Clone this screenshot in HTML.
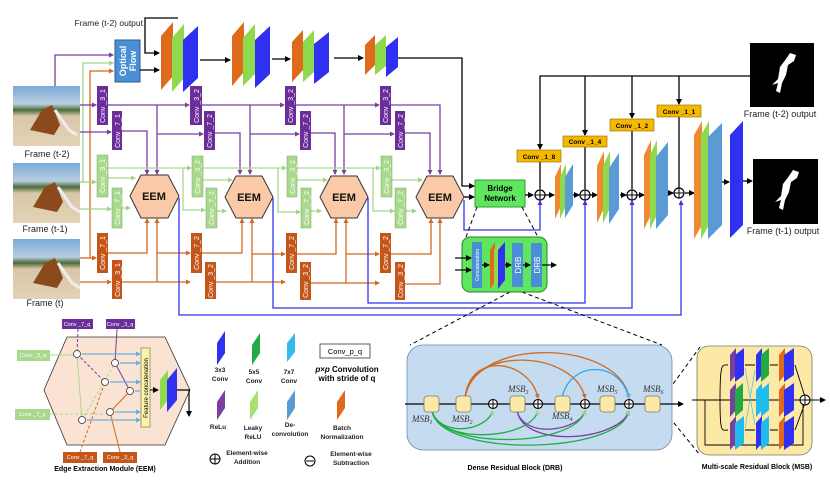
<!DOCTYPE html>
<html><head><meta charset="utf-8"><style>
html,body{margin:0;padding:0;background:#fff;}
svg{display:block;font-family:"Liberation Sans",Arial,sans-serif;}
</style></head><body>
<svg width="830" height="484" viewBox="0 0 830 484" xmlns="http://www.w3.org/2000/svg">
<defs>
<marker id="ab" markerWidth="6" markerHeight="6" refX="5" refY="3" orient="auto" markerUnits="userSpaceOnUse"><path d="M0,0L6,3L0,6z" fill="#000"/></marker>
<marker id="ap" markerWidth="5" markerHeight="5" refX="4" refY="2.5" orient="auto" markerUnits="userSpaceOnUse"><path d="M0,0L5,2.5L0,5z" fill="#7b3fa0"/></marker>
<marker id="ag" markerWidth="5" markerHeight="5" refX="4" refY="2.5" orient="auto" markerUnits="userSpaceOnUse"><path d="M0,0L5,2.5L0,5z" fill="#9fd488"/></marker>
<marker id="ao" markerWidth="5" markerHeight="5" refX="4" refY="2.5" orient="auto" markerUnits="userSpaceOnUse"><path d="M0,0L5,2.5L0,5z" fill="#d2691e"/></marker>
<marker id="au" markerWidth="5" markerHeight="5" refX="4" refY="2.5" orient="auto" markerUnits="userSpaceOnUse"><path d="M0,0L5,2.5L0,5z" fill="#3333ee"/></marker>
<marker id="ac" markerWidth="5" markerHeight="5" refX="4" refY="2.5" orient="auto" markerUnits="userSpaceOnUse"><path d="M0,0L5,2.5L0,5z" fill="#6aaee0"/></marker>
<linearGradient id="img" x1="0" y1="0" x2="0" y2="1"><stop offset="0" stop-color="#7aa8d8"/><stop offset="0.3" stop-color="#b9cfe0"/><stop offset="0.4" stop-color="#4d6b3a"/><stop offset="0.5" stop-color="#d8c6a8"/><stop offset="1" stop-color="#e3d3b6"/></linearGradient>
</defs>

<g>
<rect x="13" y="86" width="67" height="60" fill="url(#img)"/>
<rect x="13" y="163" width="67" height="60" fill="url(#img)"/>
<rect x="13" y="239" width="67" height="60" fill="url(#img)"/>
<path d="M30,130 l12,-20 l10,-5 l8,20 l-6,10z M33,207 l12,-20 l10,-5 l8,20 l-6,10z M33,283 l12,-20 l10,-5 l8,20 l-6,10z" fill="#8a4a1c"/>
<path d="M55,110 l14,20 l8,5 M58,187 l14,20 l8,5 M58,263 l14,20 l8,5" stroke="#eee" stroke-width="3" fill="none"/>
</g>
<g font-size="9" fill="#222" text-anchor="middle">
<text x="47" y="157">Frame (t-2)</text>
<text x="45" y="232">Frame (t-1)</text>
<text x="45" y="306">Frame (t)</text>
<text x="143" y="26" text-anchor="end" font-size="8.5">Frame (t-2) output</text>
</g>

<g fill="none" stroke-width="1.3">
<path d="M55,86V55H113" stroke="#7b3fa0" marker-end="url(#ap)"/>
<path d="M83,182V63H113" stroke="#9fd488" marker-end="url(#ag)"/>
<path d="M90,258V71H113" stroke="#d2691e" marker-end="url(#ao)"/>
<path d="M80,105H96" stroke="#7b3fa0" marker-end="url(#ap)"/>
<path d="M80,132H111" stroke="#7b3fa0" marker-end="url(#ap)"/>
<path d="M80,182H96" stroke="#9fd488" marker-end="url(#ag)"/>
<path d="M80,209H111" stroke="#9fd488" marker-end="url(#ag)"/>
<path d="M80,258H96" stroke="#d2691e" marker-end="url(#ao)"/>
<path d="M80,282H111" stroke="#d2691e" marker-end="url(#ao)"/>
</g>

<g fill="none" stroke="#7b3fa0" stroke-width="1.3">
<path d="M108,105H189" marker-end="url(#ap)"/><path d="M157,105V174" marker-end="url(#ap)"/><path d="M157,134H203" marker-end="url(#ap)"/>
<path d="M122,131H147V174" marker-end="url(#ap)"/>
<path d="M202,105H284" marker-end="url(#ap)"/><path d="M250,105V174" marker-end="url(#ap)"/><path d="M250,134H299" marker-end="url(#ap)"/>
<path d="M215,133H240V174" marker-end="url(#ap)"/>
<path d="M296,105H379" marker-end="url(#ap)"/><path d="M344,105V174" marker-end="url(#ap)"/><path d="M344,134H394" marker-end="url(#ap)"/>
<path d="M311,133H335V174" marker-end="url(#ap)"/>
<path d="M391,105H440V174" marker-end="url(#ap)"/>
<path d="M405,133H430V174" marker-end="url(#ap)"/>
</g>
<g fill="none" stroke="#a9d98c" stroke-width="1.3">
<path d="M108,168H191" marker-end="url(#ag)"/><path d="M108,178H135" marker-end="url(#ag)"/><path d="M122,208H130" marker-end="url(#ag)"/>
<path d="M183,168V210H205" marker-end="url(#ag)"/>
<path d="M203,168H286" marker-end="url(#ag)"/><path d="M203,180H232" marker-end="url(#ag)"/><path d="M217,211H226" marker-end="url(#ag)"/>
<path d="M278,168V212H300" marker-end="url(#ag)"/>
<path d="M297,168H380" marker-end="url(#ag)"/><path d="M297,180H327" marker-end="url(#ag)"/><path d="M311,211H321" marker-end="url(#ag)"/>
<path d="M373,168V211H394" marker-end="url(#ag)"/>
<path d="M392,180H422" marker-end="url(#ag)"/><path d="M406,211H416" marker-end="url(#ag)"/>
</g>
<g fill="none" stroke="#d2691e" stroke-width="1.3">
<path d="M108,253H147V219" marker-end="url(#ao)"/>
<path d="M122,282H190" marker-end="url(#ao)"/><path d="M157,282V219" marker-end="url(#ao)"/><path d="M157,253H190" marker-end="url(#ao)"/>
<path d="M202,253H242V219" marker-end="url(#ao)"/>
<path d="M216,282H285" marker-end="url(#ao)"/><path d="M252,282V219" marker-end="url(#ao)"/><path d="M252,254H285" marker-end="url(#ao)"/>
<path d="M297,254H336V219" marker-end="url(#ao)"/>
<path d="M311,283H379" marker-end="url(#ao)"/><path d="M346,283V219" marker-end="url(#ao)"/><path d="M346,254H379" marker-end="url(#ao)"/>
<path d="M391,254H431V219" marker-end="url(#ao)"/>
<path d="M405,284H440V219" marker-end="url(#ao)"/>
</g>

<g font-size="7" fill="#fff" stroke="none">
<g fill="#6b2d9a">
<rect x="97" y="86" width="11" height="39"/><rect x="112" y="111" width="10" height="39"/>
<rect x="190" y="86" width="12" height="39"/><rect x="204" y="111" width="11" height="39"/>
<rect x="285" y="86" width="11" height="39"/><rect x="300" y="111" width="11" height="39"/>
<rect x="380" y="86" width="11" height="39"/><rect x="395" y="111" width="10" height="39"/>
</g>
<g fill="#a9d98c" stroke="#7aa860" stroke-width="0.5">
<rect x="97" y="155" width="11" height="42"/><rect x="112" y="188" width="10" height="40"/>
<rect x="192" y="156" width="11" height="41"/><rect x="206" y="188" width="11" height="40"/>
<rect x="287" y="156" width="10" height="41"/><rect x="301" y="188" width="10" height="40"/>
<rect x="381" y="156" width="11" height="41"/><rect x="395" y="188" width="11" height="40"/>
</g>
<g fill="#c4561a">
<rect x="97" y="233" width="11" height="40"/><rect x="112" y="260" width="10" height="39"/>
<rect x="191" y="233" width="11" height="40"/><rect x="205" y="262" width="11" height="37"/>
<rect x="286" y="233" width="11" height="40"/><rect x="300" y="262" width="11" height="38"/>
<rect x="380" y="233" width="11" height="40"/><rect x="395" y="262" width="10" height="38"/>
</g>
<g text-anchor="middle">
<text transform="translate(105,106) rotate(-90)">Conv _3_1</text><text transform="translate(120,131) rotate(-90)">Conv _7_1</text>
<text transform="translate(199,106) rotate(-90)">Conv _3_2</text><text transform="translate(212,131) rotate(-90)">Conv _7_2</text>
<text transform="translate(293,106) rotate(-90)">Conv _3_2</text><text transform="translate(308,131) rotate(-90)">Conv _7_2</text>
<text transform="translate(388,106) rotate(-90)">Conv _3_2</text><text transform="translate(403,131) rotate(-90)">Conv _7_2</text>
<text transform="translate(105,176) rotate(-90)">Conv _3_1</text><text transform="translate(120,208) rotate(-90)">Conv _7_1</text>
<text transform="translate(200,177) rotate(-90)">Conv _3_2</text><text transform="translate(214,208) rotate(-90)">Conv _7_2</text>
<text transform="translate(295,177) rotate(-90)">Conv _3_2</text><text transform="translate(309,208) rotate(-90)">Conv _7_2</text>
<text transform="translate(389,177) rotate(-90)">Conv _3_2</text><text transform="translate(403,208) rotate(-90)">Conv _7_2</text>
<text transform="translate(105,253) rotate(-90)">Conv _7_1</text><text transform="translate(120,280) rotate(-90)">Conv _3_1</text>
<text transform="translate(199,253) rotate(-90)">Conv _7_2</text><text transform="translate(213,281) rotate(-90)">Conv _3_2</text>
<text transform="translate(294,253) rotate(-90)">Conv _7_2</text><text transform="translate(308,281) rotate(-90)">Conv _3_2</text>
<text transform="translate(388,253) rotate(-90)">Conv _7_2</text><text transform="translate(403,281) rotate(-90)">Conv _3_2</text>
</g>
</g>

<g fill="#f9c9a8" stroke="#333" stroke-width="1">
<polygon points="130,196 141,175 168,175 179,196 168,218 141,218"/>
<polygon points="225,197 236,176 262,176 273,197 262,218 236,218"/>
<polygon points="320,197 331,176 357,176 368,197 357,218 331,218"/>
<polygon points="416,197 427,176 453,176 464,197 453,218 427,218"/>
</g>
<g font-size="11" font-weight="bold" text-anchor="middle" fill="#111">
<text x="154" y="200">EEM</text><text x="249" y="201">EEM</text><text x="344" y="201">EEM</text><text x="440" y="201">EEM</text>
</g>

<rect x="115" y="40" width="25" height="42" fill="#4a8fd4" stroke="#2a5d94"/>
<text transform="translate(126,61) rotate(-90)" font-size="9" font-weight="bold" fill="#fff" text-anchor="middle">Optical</text>
<text transform="translate(136,61) rotate(-90)" font-size="9" font-weight="bold" fill="#fff" text-anchor="middle">Flow</text>
<g fill="none" stroke="#000" stroke-width="1.3">
<path d="M178,18H145V53H159" marker-end="url(#ab)"/>
<path d="M140,70H159" marker-end="url(#ab)"/>
<path d="M200,60H230" marker-end="url(#ab)"/>
<path d="M272,59H290" marker-end="url(#ab)"/>
<path d="M334,58H363" marker-end="url(#ab)"/>
<path d="M398,58H462V186H474" marker-end="url(#ab)"/>
<path d="M464,197H474" marker-end="url(#ab)"/>
</g>
<g>
<polygon points="161,36 173,22 173,76 161,90" fill="#e06a1c"/>
<polygon points="172,38 184,24 184,78 172,92" fill="#8fd94f"/>
<polygon points="183,40 198,26 198,78 183,92" fill="#3030f0"/>
<polygon points="232,36 244,22 244,72 232,86" fill="#e06a1c"/>
<polygon points="243,38 255,24 255,74 243,86" fill="#8fd94f"/>
<polygon points="255,40 270,26 270,74 255,88" fill="#3030f0"/>
<polygon points="292,42 303,30 303,70 292,82" fill="#e06a1c"/>
<polygon points="303,42 314,30 314,72 303,82" fill="#8fd94f"/>
<polygon points="314,44 329,32 329,72 314,84" fill="#3030f0"/>
<polygon points="365,45 375,35 375,65 365,75" fill="#e06a1c"/>
<polygon points="375,45 386,35 386,66 375,75" fill="#8fd94f"/>
<polygon points="386,47 398,37 398,67 386,77" fill="#3030f0"/>
</g>

<g fill="none" stroke="#3333ee" stroke-width="1.3">
<path d="M179,198V315H681V201" marker-end="url(#au)"/>
<path d="M273,198V308H632V201" marker-end="url(#au)"/>
<path d="M368,198V303H585V201" marker-end="url(#au)"/>
<path d="M464,200V230H540V201" marker-end="url(#au)"/>
</g>

<rect x="475" y="180" width="50" height="27" fill="#5fe65f" stroke="#3a9a3a"/>
<text x="500" y="191" font-size="8" font-weight="bold" text-anchor="middle">Bridge</text>
<text x="500" y="201" font-size="8" font-weight="bold" text-anchor="middle">Network</text>
<g stroke="#000" stroke-dasharray="4,3" fill="none" stroke-width="1">
<path d="M477,207L466,237"/><path d="M522,207L538,237"/>
<path d="M510,292L410,345"/><path d="M522,292L662,345"/>
<path d="M665,395L700,347"/><path d="M665,412L700,455"/>
</g>
<rect x="462" y="237" width="85" height="55" rx="8" fill="#5fe65f" stroke="#2f7f2f"/>
<rect x="472" y="242" width="10" height="46" fill="#4a8fd4"/>
<text transform="translate(479,265) rotate(-90)" font-size="5" fill="#fff" text-anchor="middle">Concatenation</text>
<polygon points="490,250 495,242 495,282 490,289" fill="#e06a1c"/>
<polygon points="494,250 499,242 499,282 494,289" fill="#8fd94f"/>
<polygon points="498,250 505,242 505,280 498,289" fill="#3030f0"/>
<rect x="512" y="243" width="11" height="44" fill="#4a8fd4"/>
<rect x="531" y="243" width="11" height="44" fill="#4a8fd4"/>
<text transform="translate(521,265) rotate(-90)" font-size="8" fill="#fff" text-anchor="middle">DRB</text>
<text transform="translate(540,265) rotate(-90)" font-size="8" fill="#fff" text-anchor="middle">DRB</text>
<g fill="none" stroke="#000" stroke-width="1.2">
<path d="M455,258H471" marker-end="url(#ab)"/><path d="M455,270H471" marker-end="url(#ab)"/>
<path d="M482,265H489" marker-end="url(#ab)"/><path d="M505,265H511" marker-end="url(#ab)"/>
<path d="M523,265H530" marker-end="url(#ab)"/><path d="M542,265H556" marker-end="url(#ab)"/>
</g>

<g fill="none" stroke="#000" stroke-width="1.3">
<path d="M750,76H540V149" marker-end="url(#ab)"/>
<path d="M585,76V135" marker-end="url(#ab)"/>
<path d="M632,76V118" marker-end="url(#ab)"/>
<path d="M679,76V104" marker-end="url(#ab)"/>
<path d="M540,162V189"/><path d="M585,147V189"/><path d="M632,131V189"/><path d="M679,117V189"/>
<path d="M525,195H533" marker-end="url(#ab)"/>
<path d="M545,195H554" marker-end="url(#ab)"/>
<path d="M573,195H579" marker-end="url(#ab)"/>
<path d="M590,195H597" marker-end="url(#ab)"/>
<path d="M620,195H626" marker-end="url(#ab)"/>
<path d="M637,195H644" marker-end="url(#ab)"/>
<path d="M668,193H673" marker-end="url(#ab)"/>
<path d="M685,193H694" marker-end="url(#ab)"/>
<path d="M722,182H729" marker-end="url(#ab)"/>
<path d="M743,181H752" marker-end="url(#ab)"/>
</g>
<g fill="#fff" stroke="#000" stroke-width="1.2">
<circle cx="540" cy="195" r="5"/><circle cx="585" cy="195" r="5"/><circle cx="632" cy="195" r="5"/><circle cx="679" cy="193" r="5"/>
</g>
<g stroke="#000" stroke-width="1"><path d="M535,195h10M540,190v10M580,195h10M585,190v10M627,195h10M632,190v10M674,193h10M679,188v10"/></g>
<g fill="#f5b800" stroke="#8a6a00" stroke-width="0.6">
<rect x="517" y="150" width="44" height="12"/><rect x="563" y="136" width="44" height="11"/>
<rect x="610" y="119" width="44" height="12"/><rect x="657" y="105" width="44" height="12"/>
</g>
<g font-size="6.5" font-weight="bold" text-anchor="middle">
<text x="539" y="159">Conv _1_8</text><text x="585" y="144">Conv _1_4</text>
<text x="632" y="128">Conv _1_2</text><text x="679" y="114">Conv _1_1</text>
</g>
<g>
<polygon points="555,177 561,164 561,206 555,219" fill="#f08a30"/>
<polygon points="560,177 566,164 566,206 560,219" fill="#8fd94f"/>
<polygon points="565,177 573,164 573,205 565,218" fill="#5b9bd5"/>
<polygon points="597,166 604,151 604,208 597,223" fill="#f08a30"/>
<polygon points="603,166 610,151 610,208 603,223" fill="#8fd94f"/>
<polygon points="609,168 619,153 619,209 609,224" fill="#5b9bd5"/>
<polygon points="644,155 651,140 651,215 644,229" fill="#f08a30"/>
<polygon points="650,155 657,140 657,215 650,229" fill="#8fd94f"/>
<polygon points="656,157 668,142 668,215 656,229" fill="#5b9bd5"/>
<polygon points="694,135 702,121 702,225 694,239" fill="#f08a30"/>
<polygon points="701,135 709,121 709,225 701,239" fill="#8fd94f"/>
<polygon points="708,137 722,123 722,225 708,239" fill="#5b9bd5"/>
<polygon points="730,135 743,121 743,225 730,238" fill="#3030f0"/>
</g>
<rect x="750" y="43" width="64" height="64" fill="#000"/>
<rect x="753" y="159" width="65" height="65" fill="#000"/>
<path d="M772,85 l6,-6 l2,-12 l6,-8 l4,-6 l6,2 l-2,6 l-6,4 l-2,10 l-4,8 l-2,10 l-4,-2 l2,-8z" fill="#fff"/>
<path d="M775,202 l6,-6 l2,-12 l6,-8 l4,-6 l6,2 l-2,6 l-6,4 l-2,10 l-4,8 l-2,10 l-4,-2 l2,-8z" fill="#fff"/>
<g font-size="9" fill="#222" text-anchor="middle">
<text x="780" y="117">Frame (t-2) output</text>
<text x="783" y="234">Frame (t-1) output</text>
</g>

<polygon points="44,390 67,337 165,337 190,390 165,445 67,445" fill="#fbe3d3" stroke="#333" stroke-width="0.8"/>
<g font-size="5.5" fill="#fff" text-anchor="middle">
<rect x="62" y="319" width="31" height="10" fill="#6b2d9a"/><text x="77" y="326">Conv _7_q</text>
<rect x="106" y="319" width="29" height="10" fill="#6b2d9a"/><text x="120" y="326">Conv _3_q</text>
<rect x="17" y="350" width="33" height="11" fill="#a9d98c"/><text x="33" y="357">Conv _3_q</text>
<rect x="15" y="409" width="35" height="11" fill="#a9d98c"/><text x="32" y="416">Conv _7_q</text>
<rect x="63" y="452" width="34" height="11" fill="#c4561a"/><text x="80" y="459">Conv _7_q</text>
<rect x="103" y="452" width="34" height="11" fill="#c4561a"/><text x="120" y="459">Conv _3_q</text>
</g>
<g fill="none" stroke-width="1">
<path d="M50,355H77L82,420" stroke="#a9d98c"/>
<path d="M50,414H110" stroke="#a9d98c" stroke-dasharray="3,2"/>
<path d="M82,420L115,363" stroke="#a9d98c" stroke-dasharray="3,2"/>
<path d="M78,329L77,354L105,382" stroke="#7b3fa0" stroke-dasharray="3,2"/>
<path d="M117,329L115,363L130,391" stroke="#7b3fa0"/>
<path d="M80,452L105,382" stroke="#d2691e" stroke-dasharray="3,2"/>
<path d="M120,452L110,412L130,391" stroke="#d2691e"/>
<g stroke="#6aaee0" stroke-width="1.3">
<path d="M82,354H140" marker-end="url(#ac)"/><path d="M120,363H140" marker-end="url(#ac)"/>
<path d="M110,382H140" marker-end="url(#ac)"/><path d="M135,391H140"/>
<path d="M115,412H140" marker-end="url(#ac)"/><path d="M87,420H140" marker-end="url(#ac)"/>
</g>
</g>
<g fill="#fff" stroke="#333" stroke-width="0.8">
<circle cx="77" cy="354" r="3.5"/><circle cx="115" cy="363" r="3.5"/><circle cx="105" cy="382" r="3.5"/>
<circle cx="130" cy="391" r="3.5"/><circle cx="110" cy="412" r="3.5"/><circle cx="82" cy="420" r="3.5"/>
</g>
<rect x="141" y="348" width="9" height="79" fill="#fff3a8" stroke="#998"/>
<text transform="translate(148,388) rotate(-90)" font-size="6" text-anchor="middle">Feature concatenation</text>
<polygon points="160,380 168,370 168,400 160,410" fill="#8fd94f"/>
<polygon points="167,380 177,368 177,400 167,412" fill="#3030f0"/>
<path d="M150,390H158" stroke="#000" marker-end="url(#ab)"/>
<path d="M177,390H189V416" stroke="#000" fill="none" stroke-width="1.2" marker-end="url(#ab)"/>
<text x="105" y="471" font-size="7" font-weight="bold" text-anchor="middle">Edge Extraction Module (EEM)</text>

<g>
<polygon points="217,343 225,331 225,353 217,365" fill="#3030f0"/>
<polygon points="252,345 260,333 260,353 252,365" fill="#22aa44"/>
<polygon points="287,343 295,333 295,352 287,362" fill="#33bbee"/>
<polygon points="217,402 225,390 225,408 217,420" fill="#7b3fa0"/>
<polygon points="250,402 258,390 258,408 250,420" fill="#a9e070"/>
<polygon points="287,402 295,390 295,408 287,420" fill="#5b9bd5"/>
<polygon points="337,402 345,390 345,408 337,420" fill="#e06a1c"/>
</g>
<g font-size="6.5" font-weight="bold" fill="#222" text-anchor="middle">
<text x="220" y="372">3x3</text><text x="220" y="381">Conv</text>
<text x="254" y="374">5x5</text><text x="254" y="383">Conv</text>
<text x="289" y="374">7x7</text><text x="289" y="383">Conv</text>
<text x="218" y="429">ReLu</text>
<text x="253" y="430">Leaky</text><text x="253" y="439">ReLU</text>
<text x="290" y="427">De-</text><text x="290" y="436">convolution</text>
<text x="342" y="430">Batch</text><text x="342" y="439">Normalization</text>
<text x="247" y="455">Element-wise</text><text x="247" y="464">Addition</text>
<text x="351" y="456">Element-wise</text><text x="351" y="465">Subtraction</text>
</g>
<rect x="320" y="344" width="50" height="14" fill="#fff" stroke="#333" stroke-width="0.8"/>
<text x="345" y="354" font-size="7.5" text-anchor="middle">Conv_p_q</text>
<text x="347" y="372" font-size="8" font-weight="bold" text-anchor="middle"><tspan font-style="italic">p</tspan>×<tspan font-style="italic">p</tspan> Convolution</text>
<text x="347" y="381" font-size="8" font-weight="bold" text-anchor="middle">with stride of q</text>
<g fill="none" stroke="#000" stroke-width="1">
<circle cx="215" cy="459" r="5"/><path d="M210,459h10M215,454v10"/>
<circle cx="310" cy="461" r="5"/><path d="M306,461h8"/>
</g>

<rect x="407" y="345" width="265" height="105" rx="16" fill="#c5dcf0" stroke="#6a8aaa" stroke-width="0.8"/>
<g fill="none" stroke-width="1.3">
<path d="M465,398C470,350 530,360 538,398" stroke="#d2691e" marker-end="url(#ao)"/>
<path d="M465,398C470,345 575,350 585,398" stroke="#d2691e" marker-end="url(#ao)"/>
<path d="M465,398C475,335 620,340 629,398" stroke="#d2691e" marker-end="url(#ao)"/>
<path d="M562,398C570,360 620,360 629,398" stroke="#22aaee" marker-end="url(#ac)"/>
<path d="M517,411C525,440 580,430 585,411" stroke="#7b3fa0" marker-end="url(#ap)"/>
<path d="M517,411C525,450 620,440 629,411" stroke="#7b3fa0" marker-end="url(#ap)"/>
<path d="M432,411C440,437 485,432 493,411" stroke="#22aa44" marker-end="url(#ag)"/>
<path d="M432,411C440,445 530,440 538,411" stroke="#22aa44" marker-end="url(#ag)"/>
<path d="M432,411C440,450 575,448 585,411" stroke="#22aa44" marker-end="url(#ag)"/>
<path d="M432,411C440,458 620,455 629,411" stroke="#22aa44" marker-end="url(#ag)"/>
</g>
<path d="M405,404H683" stroke="#000" stroke-width="1.3" marker-end="url(#ab)"/>
<g fill="#fde9a6" stroke="#777" stroke-width="0.8">
<rect x="424" y="396" width="15" height="16" rx="3"/><rect x="456" y="396" width="15" height="16" rx="3"/>
<rect x="510" y="396" width="15" height="16" rx="3"/><rect x="555" y="396" width="15" height="16" rx="3"/>
<rect x="600" y="396" width="15" height="16" rx="3"/><rect x="645" y="396" width="15" height="16" rx="3"/>
</g>
<g fill="#fff" stroke="#000" stroke-width="1.1">
<circle cx="493" cy="404" r="4.5"/><circle cx="538" cy="404" r="4.5"/><circle cx="585" cy="404" r="4.5"/><circle cx="629" cy="404" r="4.5"/>
</g>
<path d="M488.5,404h9M493,399.5v9M533.5,404h9M538,399.5v9M580.5,404h9M585,399.5v9M624.5,404h9M629,399.5v9" stroke="#000"/>
<g font-family="Liberation Serif,serif" font-style="italic" font-size="9" fill="#333">
<text x="412" y="422">MSB<tspan font-size="6" dy="2">1</tspan></text>
<text x="452" y="422">MSB<tspan font-size="6" dy="2">2</tspan></text>
<text x="508" y="392">MSB<tspan font-size="6" dy="2">3</tspan></text>
<text x="552" y="419">MSB<tspan font-size="6" dy="2">4</tspan></text>
<text x="597" y="392">MSB<tspan font-size="6" dy="2">5</tspan></text>
<text x="643" y="392">MSB<tspan font-size="6" dy="2">6</tspan></text>
</g>
<text x="515" y="470" font-size="7" font-weight="bold" text-anchor="middle">Dense Residual Block (DRB)</text>

<rect x="697" y="346" width="115" height="109" rx="12" fill="#fde9a6" stroke="#777" stroke-width="0.8"/>
<g fill="none" stroke="#000" stroke-width="0.9">
<path d="M692,400H825" marker-end="url(#ab)"/>
<path d="M705,400V445H803V405"/>
<path d="M720,400C720,362 722,365 728,365"/><path d="M720,400C720,435 722,430 728,430"/>
<path d="M745,365H755M770,365H778M745,400H755M770,400H778M745,430H755M770,430H778"/>
<path d="M795,365L805,397M795,400H800M795,430L805,403"/>
</g>
<path d="M745,368L755,425M745,428L755,370" stroke="#22bbee" stroke-width="0.6"/>
<circle cx="805" cy="400" r="5" fill="#fff" stroke="#000"/><path d="M800,400h10M805,395v10" stroke="#000"/>
<g>
<polygon points="730,355 736,348 736,375 730,382" fill="#7b3fa0"/><polygon points="735,355 744,348 744,375 735,382" fill="#3030f0"/>
<polygon points="730,390 736,383 736,410 730,417" fill="#7b3fa0"/><polygon points="735,390 743,383 743,410 735,417" fill="#22aa44"/>
<polygon points="730,423 736,416 736,443 730,450" fill="#7b3fa0"/><polygon points="735,423 744,416 744,443 735,450" fill="#22bbee"/>
<polygon points="756,355 762,348 762,375 756,382" fill="#3030f0"/><polygon points="761,355 769,348 769,375 761,382" fill="#22aa44"/>
<polygon points="756,390 762,383 762,410 756,417" fill="#22bbee"/><polygon points="761,390 769,383 769,410 761,417" fill="#22bbee"/>
<polygon points="756,423 762,416 762,443 756,450" fill="#3030f0"/><polygon points="761,423 769,416 769,443 761,450" fill="#22bbee"/>
<polygon points="779,355 785,348 785,375 779,382" fill="#e06a1c"/><polygon points="784,355 794,348 794,375 784,382" fill="#3030f0"/>
<polygon points="779,390 785,383 785,410 779,417" fill="#e06a1c"/><polygon points="784,390 794,383 794,410 784,417" fill="#3030f0"/>
<polygon points="779,423 785,416 785,443 779,450" fill="#e06a1c"/><polygon points="784,423 794,416 794,443 784,450" fill="#3030f0"/>
</g>
<text x="757" y="469" font-size="7" font-weight="bold" text-anchor="middle">Multi-scale Residual Block (MSB)</text>
</svg>
</body></html>
